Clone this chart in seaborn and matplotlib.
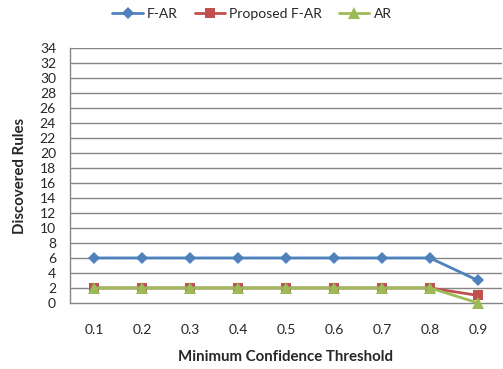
import matplotlib
matplotlib.use("Agg")
import matplotlib.pyplot as plt
import seaborn as sns
import pandas as pd
import numpy as np

categories = ["0.1", "0.2", "0.3", "0.4", "0.5", "0.6", "0.7", "0.8", "0.9"]
far = [6, 6, 6, 6, 6, 6, 6, 6, 3]
proposed = [2, 2, 2, 2, 2, 2, 2, 2, 1]
ar = [2, 2, 2, 2, 2, 2, 2, 2, 0]
series_names = ["F-AR", "Proposed F-AR", "AR"]
yticks = list(range(0, 36, 2))

sns.set_theme(style="white")
plt.rcParams['font.family'] = ['Lato', 'DejaVu Sans']

rows = []
for name, vals in zip(series_names, [far, proposed, ar]):
    for i, v in enumerate(vals):
        rows.append({"pos": i, "val": v, "series": name})
df = pd.DataFrame(rows)

fig = plt.figure(figsize=(5.03, 3.69), dpi=100)
ax = fig.add_axes([0.139, 0.179, 0.859, 0.691])

colors = {"F-AR": "#4F81BD", "Proposed F-AR": "#C0504D", "AR": "#9BBB59"}
markers = {"F-AR": "D", "Proposed F-AR": "s", "AR": "^"}
sizes = {"F-AR": 6.5, "Proposed F-AR": 7.5, "AR": 9}

for z, name in enumerate(series_names):
    sub = df[df.series == name]
    sns.lineplot(data=sub, x="pos", y="val", ax=ax, color=colors[name],
                 marker=markers[name], markersize=sizes[name], markeredgewidth=0,
                 linewidth=2, label=name, zorder=3 + z, clip_on=False)

ax.set_xlim(-0.5, 8.5)
ax.set_ylim(0, 34)
ax.set_yticks(yticks)
ax.set_yticklabels([str(t) for t in yticks], fontsize=10)
ax.set_xticks(range(len(categories)))
ax.set_xticklabels(categories, fontsize=10)
ax.set_xticks(np.arange(-0.5, 9, 1), minor=True)
ax.tick_params(axis="x", which="major", length=0, pad=15)
ax.tick_params(axis="x", which="minor", length=5, width=1, color="#868686", direction="out")
ax.tick_params(axis="y", length=5, width=1, color="#868686", direction="out", pad=5)
for t in yticks[1:]:
    ax.axhline(t, color="#868686", linewidth=1, zorder=1)
for s in ["top", "right"]:
    ax.spines[s].set_visible(False)
for s in ["left", "bottom"]:
    ax.spines[s].set_color("#868686")
    ax.spines[s].set_linewidth(1)

ax.set_xlabel("Minimum Confidence Threshold", fontsize=10.8, fontweight="bold", labelpad=10)
ax.set_ylabel("Discovered Rules", fontsize=10.8, fontweight="bold", labelpad=9)

ax.get_legend().remove()
handles, labels = ax.get_legend_handles_labels()
fig.legend(handles, labels, loc="center", bbox_to_anchor=(0.501, 0.962), ncol=3, frameon=False,
           fontsize=10, handlelength=2.2, columnspacing=1.2, handletextpad=0.3)

fig.savefig("out.png", dpi=100)
